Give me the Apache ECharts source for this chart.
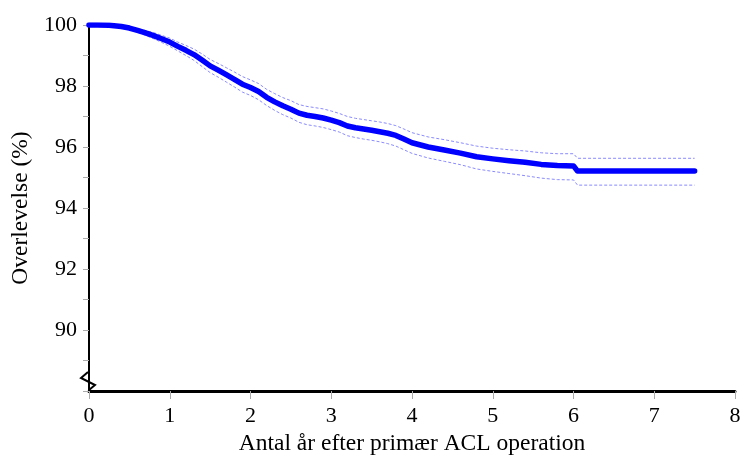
<!DOCTYPE html>
<html>
<head>
<meta charset="utf-8">
<script src="https://cdn.jsdelivr.net/npm/echarts@6/dist/echarts.min.js"></script>
<style>
  html, body { margin: 0; padding: 0; background: #fff; }
  #chart { width: 744px; height: 461px; }
</style>
</head>
<body>
<div id="chart"></div>
<script>
  // years after surgery
  var years = [0, 0.1, 0.25, 0.4, 0.5, 0.6, 0.7, 0.8, 0.9, 1.0, 1.1, 1.2, 1.3, 1.4, 1.5, 1.6, 1.7, 1.8, 1.9, 2.0,
    2.1, 2.2, 2.3, 2.4, 2.5, 2.6, 2.7, 2.8, 2.9, 3.0, 3.1, 3.2, 3.3, 3.4, 3.5, 3.6, 3.7, 3.8, 3.9, 4.0,
    4.2, 4.4, 4.6, 4.8, 5.0, 5.2, 5.4, 5.6, 5.8, 6.0, 6.05, 7.5];
  // survival (%)
  var survival = [100, 100, 99.99, 99.95, 99.9, 99.82, 99.74, 99.65, 99.55, 99.44, 99.3, 99.17, 99.03, 98.85, 98.66, 98.52, 98.37, 98.22, 98.06, 97.95,
    97.82, 97.63, 97.48, 97.35, 97.24, 97.11, 97.04, 97.0, 96.95, 96.88, 96.8, 96.69, 96.63, 96.59, 96.55, 96.5, 96.45, 96.38, 96.26, 96.14,
    96.0, 95.9, 95.8, 95.68, 95.61, 95.55, 95.5, 95.43, 95.39, 95.38, 95.21, 95.21];
  var upper = [100, 100, 100, 99.97, 99.94, 99.88, 99.82, 99.75, 99.66, 99.57, 99.44, 99.33, 99.21, 99.05, 98.87, 98.74, 98.6, 98.46, 98.31, 98.2,
    98.08, 97.89, 97.75, 97.62, 97.52, 97.39, 97.33, 97.29, 97.25, 97.18, 97.1, 97.0, 96.94, 96.9, 96.86, 96.82, 96.77, 96.7, 96.59, 96.47,
    96.33, 96.24, 96.14, 96.03, 95.96, 95.91, 95.87, 95.81, 95.78, 95.78, 95.63, 95.63];
  var lower = [100, 100, 99.98, 99.93, 99.86, 99.76, 99.66, 99.55, 99.43, 99.3, 99.15, 99.0, 98.84, 98.64, 98.44, 98.29, 98.13, 97.97, 97.8, 97.69,
    97.55, 97.36, 97.2, 97.06, 96.95, 96.81, 96.73, 96.69, 96.64, 96.57, 96.49, 96.37, 96.31, 96.26, 96.22, 96.17, 96.11, 96.03, 95.91, 95.79,
    95.64, 95.53, 95.42, 95.28, 95.2, 95.13, 95.06, 94.98, 94.93, 94.92, 94.75, 94.75];

  var font = 'Liberation Serif';

  function pairs(ys) {
    var out = [];
    years.forEach(function (x, i) { out.push([x, ys[i]]); });
    return out;
  }

  var chart = echarts.init(document.getElementById('chart'));
  var ciStyle = { color: '#8a8aff', width: 1, type: [3, 2] };

  chart.setOption({
    animation: false,
    grid: { left: 89, right: 9, top: 25, bottom: 70 },
    xAxis: {
      type: 'value',
      min: 0,
      max: 8,
      interval: 1,
      name: 'Antal år efter primær ACL operation',
      nameLocation: 'middle',
      nameGap: 40,
      nameTextStyle: { fontFamily: font, fontSize: 23.5, color: '#000' },
      axisLine: { lineStyle: { color: '#000', width: 3 } },
      axisTick: { length: 8, lineStyle: { color: '#aaa' } },
      axisLabel: { fontFamily: font, fontSize: 22, color: '#000', margin: 14 },
      splitLine: { show: false }
    },
    yAxis: {
      type: 'value',
      min: 88,
      max: 100,
      interval: 2,
      name: 'Overlevelse (%)',
      nameLocation: 'middle',
      nameGap: 55,
      nameTextStyle: { fontFamily: font, fontSize: 23.5, color: '#000' },
      axisLine: { lineStyle: { color: '#000', width: 2 } },
      axisTick: { length: 6, lineStyle: { color: '#aaa' } },
      minorTick: { show: true, splitNumber: 2, length: 6, lineStyle: { color: '#aaa' } },
      axisLabel: {
        fontFamily: font, fontSize: 22, color: '#000', margin: 12,
        formatter: function (v) { return v === 88 ? '' : v; }
      },
      splitLine: { show: false }
    },
    series: [
      { type: 'line', data: pairs(upper), showSymbol: false, lineStyle: ciStyle, z: 2 },
      { type: 'line', data: pairs(lower), showSymbol: false, lineStyle: ciStyle, z: 2 },
      {
        type: 'line', data: pairs(survival), showSymbol: false, z: 3,
        lineStyle: { color: '#0000ff', width: 5.5, cap: 'round', join: 'round' }
      }
    ]
  });

  // axis break zigzag near the bottom of the y axis
  var p = chart.convertToPixel({ gridIndex: 0 }, [0, 88]);
  chart.setOption({
    graphic: [{
      type: 'polyline',
      z: 10,
      shape: {
        points: [[p[0] - 1, p[1] - 19], [p[0] - 8, p[1] - 13], [p[0] + 6, p[1] - 6], [p[0], p[1] - 1]]
      },
      style: { stroke: '#000', lineWidth: 2, fill: null }
    }]
  });
</script>
</body>
</html>
